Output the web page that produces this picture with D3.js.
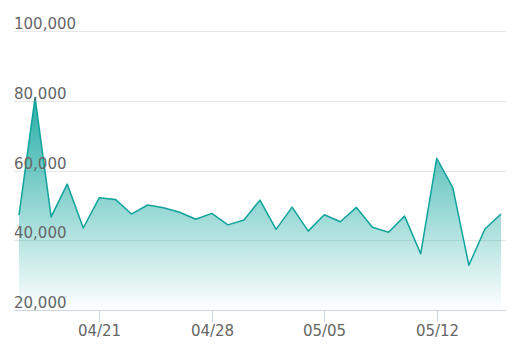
<!DOCTYPE html>
<html>
<head>
<meta charset="utf-8">
<script src="https://cdn.jsdelivr.net/npm/d3@7"></script>
<style>
  body { margin: 0; background: #fff; }
  text { font-family: "DejaVu Sans", sans-serif; }
</style>
</head>
<body>
<div id="chart"></div>
<script>
// Daily values, 04/16 .. 05/16
const dates = ["2024-04-16","2024-04-17","2024-04-18","2024-04-19","2024-04-20","2024-04-21","2024-04-22",
  "2024-04-23","2024-04-24","2024-04-25","2024-04-26","2024-04-27","2024-04-28","2024-04-29","2024-04-30",
  "2024-05-01","2024-05-02","2024-05-03","2024-05-04","2024-05-05","2024-05-06","2024-05-07","2024-05-08",
  "2024-05-09","2024-05-10","2024-05-11","2024-05-12","2024-05-13","2024-05-14","2024-05-15","2024-05-16"];
const values = [47500, 81200, 47000, 56400, 43800, 52500, 52000, 47800, 50400, 49600, 48300, 46300, 48000,
  44700, 46100, 51800, 43400, 49800, 42900, 47600, 45600, 49700, 44000, 42600, 47200, 36400, 63800,
  55400, 33100, 43500, 47800];
const yTicks = [20000, 40000, 60000, 80000, 100000];
const xTicks = ["2024-04-21", "2024-04-28", "2024-05-05", "2024-05-12"];

const width = 532, height = 360;
const plot = { left: 14, right: 506, top: 32, bottom: 311 };

const parse = d3.utcParse("%Y-%m-%d");
const data = dates.map((d, i) => ({ date: parse(d), value: values[i] }));

const svg = d3.select("#chart")
  .append("svg")
    .attr("width", width)
    .attr("height", height);

const x = d3.scaleUtc()
  .domain(d3.extent(data, d => d.date))
  .range([19, 501]);

const y = d3.scaleLinear()
  .domain([20000, 100000])
  .range([plot.bottom, plot.top]);

const crisp = v => Math.round(v) + 0.5;

// gradient for the area
const grad = svg.append("defs").append("linearGradient")
  .attr("id", "fillGrad")
  .attr("gradientUnits", "userSpaceOnUse")
  .attr("x1", 0).attr("x2", 0)
  .attr("y1", y(80000)).attr("y2", plot.bottom);
grad.append("stop").attr("offset", 0).attr("stop-color", "#12a69e").attr("stop-opacity", 0.9);
grad.append("stop").attr("offset", 1).attr("stop-color", "#12a69e").attr("stop-opacity", 0);

// grid lines
svg.append("g")
  .selectAll("line")
  .data(yTicks.slice(1))
  .join("line")
    .attr("x1", plot.left)
    .attr("x2", plot.right)
    .attr("y1", d => crisp(y(d) - 1))
    .attr("y2", d => crisp(y(d) - 1))
    .attr("stroke", "#e6e6e6")
    .attr("stroke-width", 1);

// area + line
svg.append("path")
  .datum(data)
  .attr("fill", "url(#fillGrad)")
  .attr("d", d3.area()
    .x(d => x(d.date))
    .y0(plot.bottom)
    .y1(d => y(d.value)));

svg.append("path")
  .datum(data)
  .attr("fill", "none")
  .attr("stroke", "#0fa39b")
  .attr("stroke-width", 1.5)
  .attr("stroke-linejoin", "round")
  .attr("d", d3.line()
    .x(d => x(d.date))
    .y(d => y(d.value)));

// x axis line and ticks
svg.append("line")
  .attr("x1", plot.left)
  .attr("x2", plot.right)
  .attr("y1", crisp(plot.bottom - 1))
  .attr("y2", crisp(plot.bottom - 1))
  .attr("stroke", "#ccd6eb");

const fmtX = d3.utcFormat("%m/%d");
const xt = svg.append("g")
  .selectAll("g")
  .data(xTicks.map(parse))
  .join("g")
    .attr("transform", d => `translate(${crisp(x(d))},0)`);
xt.append("line")
  .attr("y1", plot.bottom)
  .attr("y2", plot.bottom + 11)
  .attr("stroke", "#ccd6eb");
xt.append("text")
  .attr("y", plot.bottom + 25)
  .attr("text-anchor", "middle")
  .attr("fill", "#666666")
  .style("font-size", "15px")
  .text(d => fmtX(d));

// y labels above grid lines
svg.append("g")
  .selectAll("text")
  .data(yTicks)
  .join("text")
    .attr("x", plot.left)
    .attr("y", d => y(d) - 3)
    .attr("fill", "#666666")
    .style("font-size", "15px")
    .text(d => d3.format(",")(d));
</script>
</body>
</html>
